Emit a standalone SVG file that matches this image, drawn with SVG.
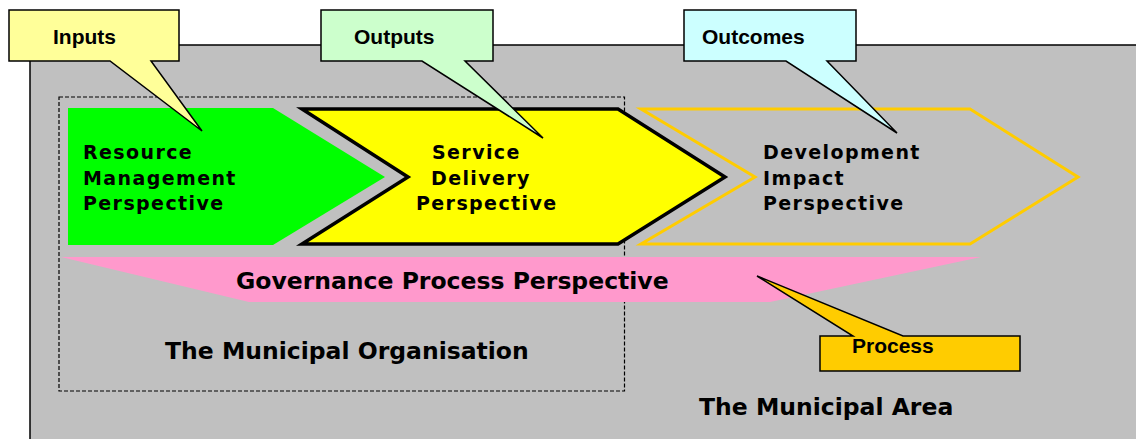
<svg xmlns="http://www.w3.org/2000/svg" width="1136" height="439" viewBox="0 0 1136 439">
  <style>
    .area { fill: #C0C0C0; stroke: #000; stroke-width: 1.5; }
    .org { fill: none; stroke: #000; stroke-width: 1.2; stroke-dasharray: 4 2; }
    .persp { font-family: "DejaVu Sans", Verdana, sans-serif; font-weight: bold; font-size: 19px; letter-spacing: 1.4px; fill: #000; }
    .big { font-family: "DejaVu Sans", Verdana, sans-serif; font-weight: bold; font-size: 23.5px; fill: #000; }
    .call { stroke: #000; stroke-width: 1.5; stroke-linejoin: miter; }
    .calltext { font-family: "Liberation Sans", Arial, sans-serif; font-weight: bold; font-size: 21px; fill: #000; }
  </style>

  <!-- municipal area backdrop -->
  <rect id="municipal-area" class="area" x="30" y="45" width="1200" height="500"/>

  <!-- municipal organisation boundary -->
  <rect id="municipal-organisation" class="org" x="59" y="97" width="565.5" height="294"/>

  <!-- governance band -->
  <g id="governance">
    <polygon points="61,257 981,257 770,302 249,302" fill="#FF99CC"/>
    <text class="big" x="236" y="289">Governance Process Perspective</text>
  </g>

  <!-- perspectives chain -->
  <g id="resource-management">
    <polygon points="68,108 273,108 385,177 273,245 68,245" fill="#00FF00"/>
    <text class="persp" x="83" y="159">Resource</text>
    <text class="persp" x="83" y="185">Management</text>
    <text class="persp" x="83" y="210">Perspective</text>
  </g>

  <g id="service-delivery">
    <polygon points="302,109 618,109 725,177 618,244 302,244 408,177" fill="#FFFF00" stroke="#000" stroke-width="3.5" stroke-linejoin="miter"/>
    <text class="persp" x="432" y="159">Service</text>
    <text class="persp" x="431" y="185">Delivery</text>
    <text class="persp" x="416" y="210">Perspective</text>
  </g>

  <g id="development-impact">
    <polygon points="641,109 970,109 1078,177 970,244 641,244 755,177" fill="none" stroke="#FFCC00" stroke-width="3" stroke-linejoin="miter"/>
    <text class="persp" x="763" y="159">Development</text>
    <text class="persp" x="763" y="185">Impact</text>
    <text class="persp" x="763" y="210">Perspective</text>
  </g>

  <!-- area labels -->
  <text id="label-organisation" class="big" x="165" y="359">The Municipal Organisation</text>
  <text id="label-area" class="big" x="699" y="415">The Municipal Area</text>

  <!-- callouts -->
  <g id="connectors">
    <g id="callout-inputs">
      <path class="call" fill="#FFFF99" d="M9,10 H179 V61 H151 L202,131 L110,61 H9 Z"/>
      <text class="calltext" x="53" y="44">Inputs</text>
    </g>
    <g id="callout-outputs">
      <path class="call" fill="#CCFFCC" d="M321,10 H493 V61 H465 L543,138 L422,61 H321 Z"/>
      <text class="calltext" x="354" y="44">Outputs</text>
    </g>
    <g id="callout-outcomes">
      <path class="call" fill="#CCFFFF" d="M684,10 H856 V61 H827 L897,133 L786,61 H684 Z"/>
      <text class="calltext" x="702" y="44">Outcomes</text>
    </g>
    <g id="callout-process">
      <path class="call" fill="#FFCC00" d="M820,336 H853 L757,276 L903,336 H1020 V371 H820 Z"/>
      <text class="calltext" x="852" y="353">Process</text>
    </g>
  </g>
</svg>
